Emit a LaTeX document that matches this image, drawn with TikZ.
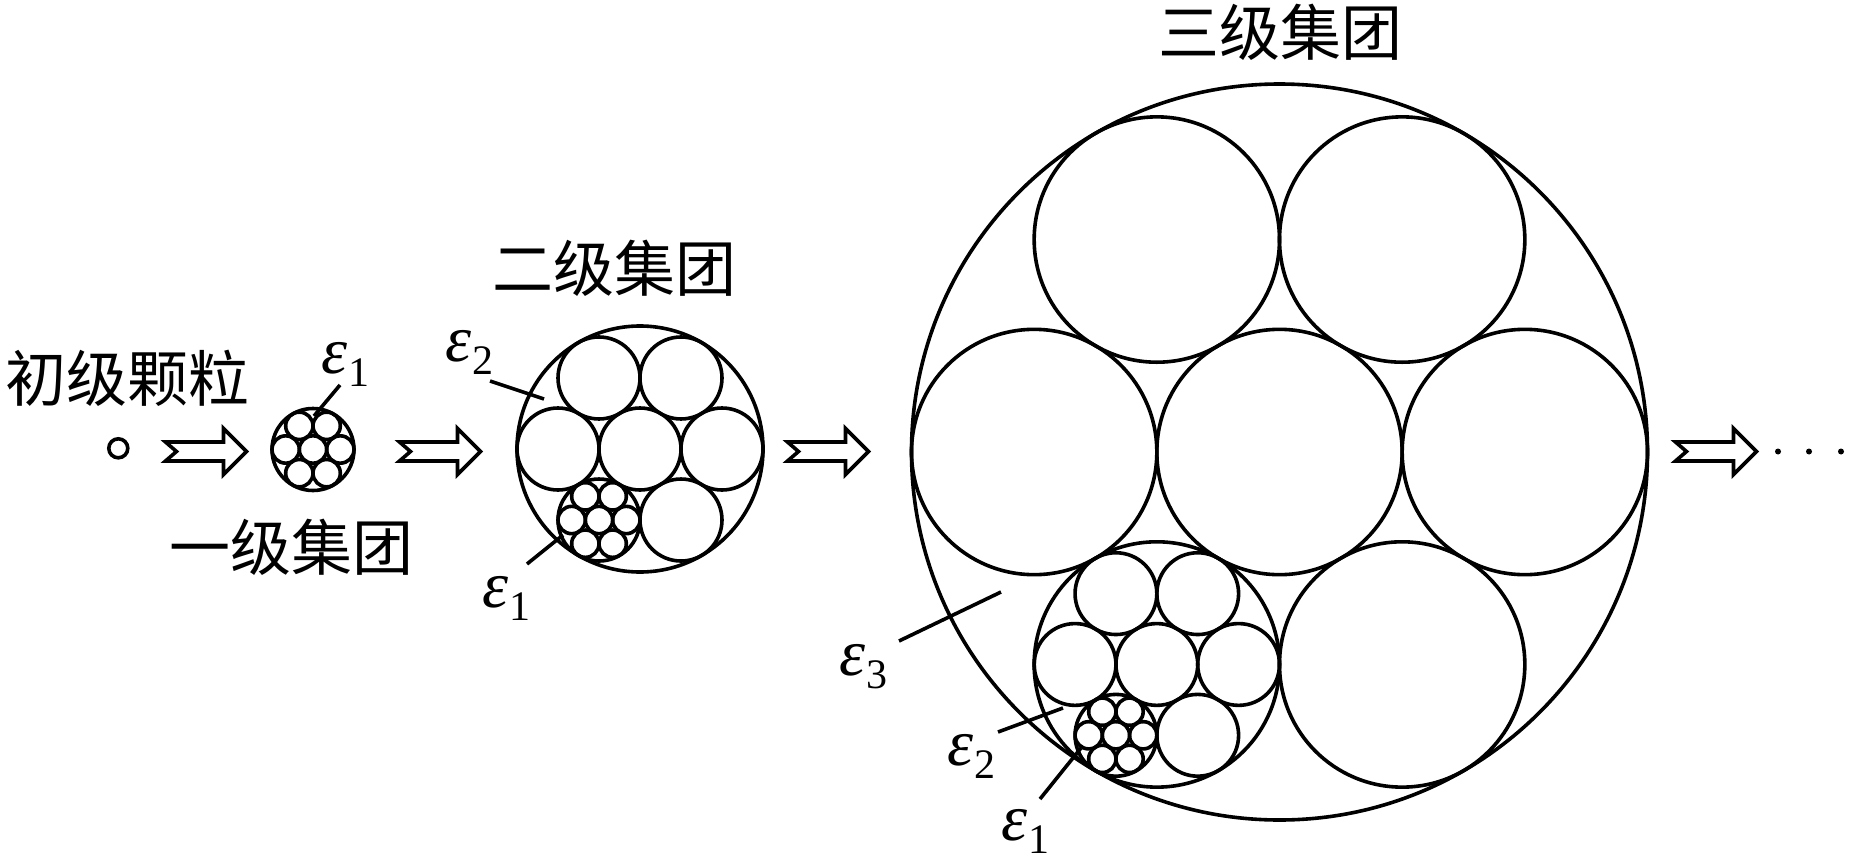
\documentclass[tikz,border=0pt]{standalone}
\usepackage{fontspec}
\setmainfont{Liberation Serif}
\newfontfamily\cjk{Noto Sans CJK SC}
\usetikzlibrary{calc}
\tikzset{
  ln/.style={line width=1.8pt, draw=black},
  cn/.style={font=\cjk\fontsize{30.5}{30.5}\selectfont, inner sep=0pt},
  ep/.style={font=\fontsize{33}{33}\selectfont, inner sep=0pt, anchor=base west},
  lead/.style={line width=1.8pt, line cap=butt},
  harrow/.style={line width=1.8pt, line join=miter, miter limit=10},
}
\newcommand\epsl[1]{\textit{ε}\kern0.5pt\raisebox{-6.5pt}{\fontsize{21}{21}\selectfont #1}}
\newcommand\clusterA[3]{%
  \draw[ln] (#1,#2) circle[radius=#3];
  \draw[ln] (#1,#2) circle[radius=#3/3];
  \foreach \ang in {0,60,...,300}{\draw[ln] ($(#1,#2)+(\ang:{2*#3/3})$) circle[radius=#3/3];}
}
\newcommand\clusterB[3]{%
  \draw[ln] (#1,#2) circle[radius=#3];
  \draw[ln] (#1,#2) circle[radius=#3/3];
  \foreach \ang in {0,60,180,240,300}{\draw[ln] ($(#1,#2)+(\ang:{2*#3/3})$) circle[radius=#3/3];}
  \pgfmathsetmacro\clBx{#1-#3/3}%
  \pgfmathsetmacro\clBy{#2+0.5773503*#3}%
  \pgfmathsetmacro\clBr{#3/3}%
  \clusterA{\clBx}{\clBy}{\clBr}
}
\newcommand\clusterC[3]{%
  \draw[ln] (#1,#2) circle[radius=#3];
  \draw[ln] (#1,#2) circle[radius=#3/3];
  \foreach \ang in {0,60,180,240,300}{\draw[ln] ($(#1,#2)+(\ang:{2*#3/3})$) circle[radius=#3/3];}
  \pgfmathsetmacro\clCx{#1-#3/3}%
  \pgfmathsetmacro\clCy{#2+0.5773503*#3}%
  \pgfmathsetmacro\clCr{#3/3}%
  \clusterB{\clCx}{\clCy}{\clCr}
}
\newcommand\hollowarrow[2]{%
  \draw[harrow] (#1,#2-9.5) -- (#1+58,#2-9.5) -- (#1+58,#2-23) -- (#1+81,#2)
    -- (#1+58,#2+23) -- (#1+58,#2+9.5) -- (#1,#2+9.5) -- (#1+11,#2) -- cycle;
}
\begin{document}
\begin{tikzpicture}[x=0.5pt,y=-0.5pt]
\useasboundingbox (0,0) rectangle (1865,868);
% primary particle
\draw[ln] (118.3,448.3) circle[radius=9.5];
% clusters
\clusterA{313}{449.5}{41}
\clusterB{640}{449}{123}
\clusterC{1279.5}{452}{368}
% arrows
\hollowarrow{165.5}{451.5}
\hollowarrow{399.5}{451.5}
\hollowarrow{787.5}{451.5}
\hollowarrow{1675.5}{451.5}
% dots
\fill (1778,451.5) circle[radius=3];
\fill (1809,451.5) circle[radius=3];
\fill (1841,451.5) circle[radius=3];
% titles
\node[cn] (t0) at (127.5,378) {初级颗粒};
\node[cn] (t1) at (291,547.5) {一级集团};
\node[cn] (t2) at (614,268) {二级集团};
\node[cn] (t3) at (1280,32.5) {三级集团};
% epsilon labels
\node[ep] (e1a) at (321,373) {\epsl{1}};
\node[ep] (e2b) at (445,361) {\epsl{2}};
\node[ep] (e1b) at (482,607) {\epsl{1}};
\node[ep] (e3c) at (839,675) {\epsl{3}};
\node[ep] (e2c) at (947,765) {\epsl{2}};
\node[ep] (e1c) at (1001,840) {\epsl{1}};
% leader lines
\coordinate (a1) at (340,385);  \coordinate (b1) at (314,416);
\coordinate (a2) at (490,381);  \coordinate (b2) at (544,399);
\coordinate (a3) at (527,564);  \coordinate (b3) at (563,535);
\coordinate (a4) at (899,641);  \coordinate (b4) at (1001,592);
\coordinate (a5) at (998,732);  \coordinate (b5) at (1063,708);
\coordinate (a6) at (1040,799); \coordinate (b6) at (1081,748);
\draw[lead] (a1) -- (b1);
\draw[lead] (a2) -- (b2);
\draw[lead] (a3) -- (b3);
\draw[lead] (a4) -- (b4);
\draw[lead] (a5) -- (b5);
\draw[lead] (a6) -- (b6);
\end{tikzpicture}
\end{document}
